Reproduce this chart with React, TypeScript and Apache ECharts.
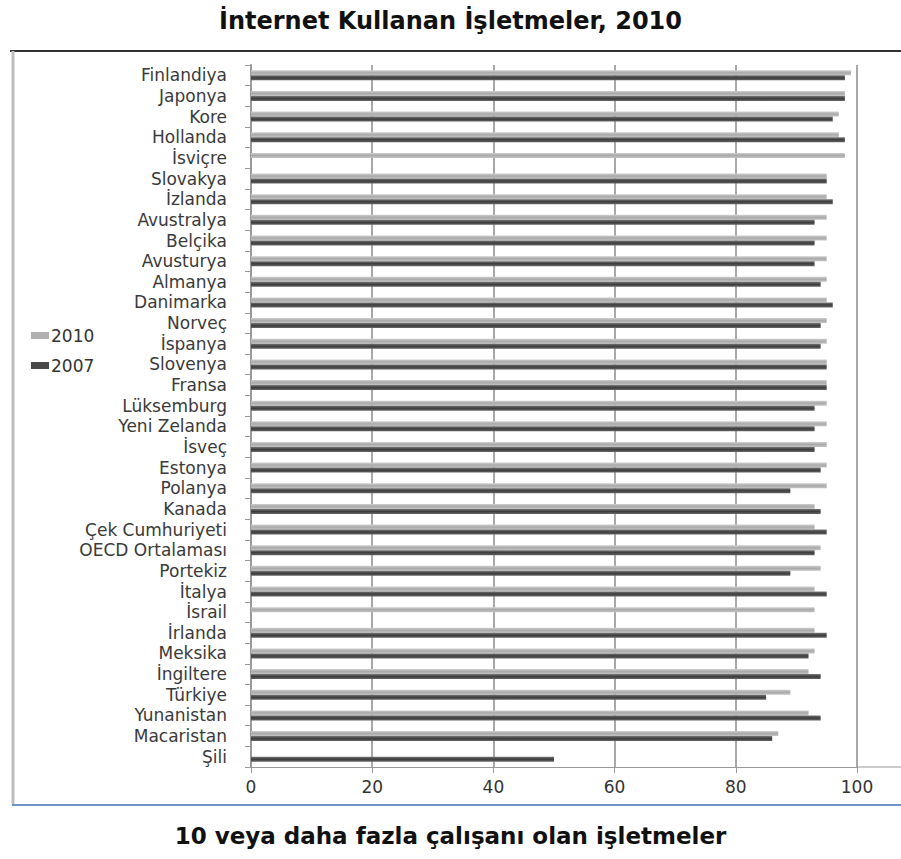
import React, { useEffect, useRef } from "react";
import * as echarts from "echarts";

const categories = [
  "Finlandiya", "Japonya", "Kore", "Hollanda", "İsviçre", "Slovakya", "İzlanda",
  "Avustralya", "Belçika", "Avusturya", "Almanya", "Danimarka", "Norveç", "İspanya",
  "Slovenya", "Fransa", "Lüksemburg", "Yeni Zelanda", "İsveç", "Estonya", "Polanya",
  "Kanada", "Çek Cumhuriyeti", "OECD Ortalaması", "Portekiz", "İtalya", "İsrail",
  "İrlanda", "Meksika", "İngiltere", "Türkiye", "Yunanistan", "Macaristan", "Şili",
];

const values2010 = [
  99, 98, 97, 97, 98, 95, 95, 95, 95, 95, 95, 95, 95, 95, 95, 95, 95, 95, 95, 95, 95,
  93, 93, 94, 94, 93, 93, 93, 93, 92, 89, 92, 87, null,
];

const values2007 = [
  98, 98, 96, 98, null, 95, 96, 93, 93, 93, 94, 96, 94, 94, 95, 95, 93, 93, 93, 94, 89,
  94, 95, 93, 89, 95, null, 95, 92, 94, 85, 94, 86, 50,
];

const seriesNames = ["2010", "2007"];
const xTicks = { min: 0, max: 100, interval: 20 };
const titleText = "İnternet Kullanan İşletmeler, 2010";
const subtitleText = "10 veya daha fazla çalışanı olan işletmeler";

export default function App() {
  const ref = useRef<HTMLDivElement>(null);
  useEffect(() => {
    if (!ref.current) return;
    const chart = echarts.init(ref.current, null, { renderer: "svg" });
    const lightGrad = new echarts.graphic.LinearGradient(0, 0, 0, 1, [
      { offset: 0, color: "#cfcfcf" },
      { offset: 0.5, color: "#a9a9a9" },
      { offset: 1, color: "#c4c4c4" },
    ]);
    const darkGrad = new echarts.graphic.LinearGradient(0, 0, 0, 1, [
      { offset: 0, color: "#777777" },
      { offset: 0.5, color: "#3c3c3c" },
      { offset: 1, color: "#666666" },
    ]);
    chart.setOption({
      animation: false,
      backgroundColor: "#ffffff",
      title: [
        {
          text: titleText,
          left: "center",
          top: 4,
          textStyle: { fontFamily: "DejaVu Sans", fontWeight: "bold", fontSize: 24, color: "#111" },
        },
        {
          text: subtitleText,
          left: "center",
          top: 819,
          textStyle: { fontFamily: "DejaVu Sans", fontWeight: "bold", fontSize: 23, color: "#111" },
        },
      ],
      legend: {
        orient: "vertical",
        left: 26,
        top: 322,
        icon: "rect",
        itemWidth: 18,
        itemHeight: 7,
        itemGap: 13,
        data: [
          { name: seriesNames[0], itemStyle: { color: "#b0b0b0" } },
          { name: seriesNames[1], itemStyle: { color: "#4a4a4a" } },
        ],
        textStyle: { fontFamily: "DejaVu Sans", fontSize: 17, color: "#333", padding: [0, 0, 0, -3] },
      },
      grid: { left: 251, right: 44, top: 65, bottom: 92, containLabel: false },
      xAxis: {
        type: "value",
        min: xTicks.min,
        max: xTicks.max,
        interval: xTicks.interval,
        axisLine: { show: true, lineStyle: { color: "#999", width: 1 } },
        axisTick: { show: true, length: 6, lineStyle: { color: "#999" } },
        axisLabel: { fontFamily: "DejaVu Sans", fontSize: 17, color: "#333", margin: 11 },
        splitLine: { show: true, lineStyle: { color: "#a8a8a8", width: 2 } },
      },
      yAxis: {
        type: "category",
        inverse: true,
        data: categories,
        axisLine: { show: true, lineStyle: { color: "#999", width: 2 } },
        axisTick: { show: true, length: 6, lineStyle: { color: "#999" } },
        axisLabel: { interval: 0, fontFamily: "DejaVu Sans", fontSize: 17, color: "#3a3a3a", margin: 24 },
      },
      series: [
        {
          name: seriesNames[0],
          type: "bar",
          data: values2010,
          barWidth: 5,
          barGap: "0%",
          itemStyle: { color: lightGrad },
        },
        {
          name: seriesNames[1],
          type: "bar",
          data: values2007,
          barWidth: 5,
          barGap: "0%",
          itemStyle: { color: darkGrad },
        },
      ],
      graphic: [
        { type: "line", shape: { x1: 857, y1: 767, x2: 901, y2: 767 }, style: { stroke: "#999", lineWidth: 1 } },
        { type: "line", shape: { x1: 10, y1: 51, x2: 901, y2: 51 }, style: { stroke: "#333", lineWidth: 2 } },
        { type: "line", shape: { x1: 13, y1: 51, x2: 13, y2: 805 }, style: { stroke: "#bdbdbd", lineWidth: 3 } },
        { type: "line", shape: { x1: 12, y1: 805, x2: 901, y2: 805 }, style: { stroke: "#6f95c8", lineWidth: 2 } },
      ],
    });
    return () => chart.dispose();
  }, []);
  return (
    <div
      ref={ref}
      style={{ position: "absolute", left: 0, top: 0, width: 901, height: 859 }}
    />
  );
}
